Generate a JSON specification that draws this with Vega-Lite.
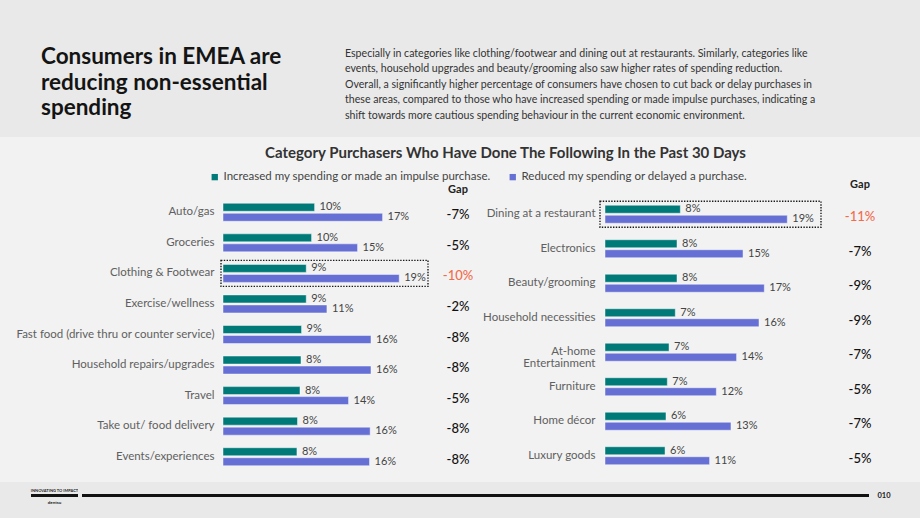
{
  "$schema": "https://vega.github.io/schema/vega-lite/v6.json",
  "background": "#f2f2f2",
  "padding": 0,
  "spacing": 9,
  "config": {
    "view": {"stroke": null},
    "font": "Lato",
    "locale": {"number": {"decimal": ".", "thousands": ",", "grouping": [3], "currency": ["$", ""], "minus": "-"}}
  },
  "datasets": {
    "header": [
      {
        "heading": "Consumers in EMEA are\nreducing non-essential\nspending",
        "paragraph": "Especially in categories like clothing/footwear and dining out at restaurants. Similarly, categories like\nevents, household upgrades and beauty/grooming also saw higher rates of spending reduction.\nOverall, a significantly higher percentage of consumers have chosen to cut back or delay purchases in\nthese areas, compared to those who have increased spending or made impulse purchases, indicating a\nshift towards more cautious spending behaviour in the current economic environment."
      }
    ],
    "leftBars": [
      {"category": "Auto/gas", "measure": "Increased my spending or made an impulse purchase.", "value": 0.0996},
      {"category": "Auto/gas", "measure": "Reduced my spending or delayed a purchase.", "value": 0.1735},
      {"category": "Groceries", "measure": "Increased my spending or made an impulse purchase.", "value": 0.0963},
      {"category": "Groceries", "measure": "Reduced my spending or delayed a purchase.", "value": 0.1463},
      {"category": "Clothing & Footwear", "measure": "Increased my spending or made an impulse purchase.", "value": 0.0905},
      {"category": "Clothing & Footwear", "measure": "Reduced my spending or delayed a purchase.", "value": 0.1916},
      {"category": "Exercise/wellness", "measure": "Increased my spending or made an impulse purchase.", "value": 0.0905},
      {"category": "Exercise/wellness", "measure": "Reduced my spending or delayed a purchase.", "value": 0.113},
      {"category": "Fast food (drive thru or counter service)", "measure": "Increased my spending or made an impulse purchase.", "value": 0.0854},
      {"category": "Fast food (drive thru or counter service)", "measure": "Reduced my spending or delayed a purchase.", "value": 0.1609},
      {"category": "Household repairs/upgrades", "measure": "Increased my spending or made an impulse purchase.", "value": 0.0848},
      {"category": "Household repairs/upgrades", "measure": "Reduced my spending or delayed a purchase.", "value": 0.1609},
      {"category": "Travel", "measure": "Increased my spending or made an impulse purchase.", "value": 0.0837},
      {"category": "Travel", "measure": "Reduced my spending or delayed a purchase.", "value": 0.1365},
      {"category": "Take out/ food delivery", "measure": "Increased my spending or made an impulse purchase.", "value": 0.081},
      {"category": "Take out/ food delivery", "measure": "Reduced my spending or delayed a purchase.", "value": 0.16},
      {"category": "Events/experiences", "measure": "Increased my spending or made an impulse purchase.", "value": 0.0804},
      {"category": "Events/experiences", "measure": "Reduced my spending or delayed a purchase.", "value": 0.1593}
    ],
    "rightBars": [
      {"category": "Dining at a restaurant", "measure": "Increased my spending or made an impulse purchase.", "value": 0.0793},
      {"category": "Dining at a restaurant", "measure": "Reduced my spending or delayed a purchase.", "value": 0.1919},
      {"category": "Electronics", "measure": "Increased my spending or made an impulse purchase.", "value": 0.0758},
      {"category": "Electronics", "measure": "Reduced my spending or delayed a purchase.", "value": 0.1453},
      {"category": "Beauty/grooming", "measure": "Increased my spending or made an impulse purchase.", "value": 0.0758},
      {"category": "Beauty/grooming", "measure": "Reduced my spending or delayed a purchase.", "value": 0.1677},
      {"category": "Household necessities", "measure": "Increased my spending or made an impulse purchase.", "value": 0.074},
      {"category": "Household necessities", "measure": "Reduced my spending or delayed a purchase.", "value": 0.1621},
      {"category": "At-home Entertainment", "measure": "Increased my spending or made an impulse purchase.", "value": 0.0674},
      {"category": "At-home Entertainment", "measure": "Reduced my spending or delayed a purchase.", "value": 0.1385},
      {"category": "Furniture", "measure": "Increased my spending or made an impulse purchase.", "value": 0.0656},
      {"category": "Furniture", "measure": "Reduced my spending or delayed a purchase.", "value": 0.1172},
      {"category": "Home décor", "measure": "Increased my spending or made an impulse purchase.", "value": 0.0642},
      {"category": "Home décor", "measure": "Reduced my spending or delayed a purchase.", "value": 0.1326},
      {"category": "Luxury goods", "measure": "Increased my spending or made an impulse purchase.", "value": 0.0632},
      {"category": "Luxury goods", "measure": "Reduced my spending or delayed a purchase.", "value": 0.1101}
    ],
    "leftGap": [
      {"category": "Auto/gas", "gap": -0.07, "highlight": false},
      {"category": "Groceries", "gap": -0.05, "highlight": false},
      {"category": "Clothing & Footwear", "gap": -0.10, "highlight": true},
      {"category": "Exercise/wellness", "gap": -0.02, "highlight": false},
      {"category": "Fast food (drive thru or counter service)", "gap": -0.08, "highlight": false},
      {"category": "Household repairs/upgrades", "gap": -0.08, "highlight": false},
      {"category": "Travel", "gap": -0.05, "highlight": false},
      {"category": "Take out/ food delivery", "gap": -0.08, "highlight": false},
      {"category": "Events/experiences", "gap": -0.08, "highlight": false}
    ],
    "rightGap": [
      {"category": "Dining at a restaurant", "gap": -0.11, "highlight": true},
      {"category": "Electronics", "gap": -0.07, "highlight": false},
      {"category": "Beauty/grooming", "gap": -0.09, "highlight": false},
      {"category": "Household necessities", "gap": -0.09, "highlight": false},
      {"category": "At-home Entertainment", "gap": -0.07, "highlight": false},
      {"category": "Furniture", "gap": -0.05, "highlight": false},
      {"category": "Home décor", "gap": -0.07, "highlight": false},
      {"category": "Luxury goods", "gap": -0.05, "highlight": false}
    ],
    "footer": [
      {"brand": "INNOVATING TO IMPACT", "company": "dentsu", "page": "010"}
    ]
  },
  "vconcat": [
    {
      "spacing": 0,
      "bounds": "flush",
      "hconcat": [
        {
          "width": 330,
          "height": 137,
          "view": {"fill": "#e9e9e9", "stroke": null},
          "data": {"name": "header"},
          "mark": {"type": "text", "align": "left", "baseline": "alphabetic", "lineBreak": "\n", "lineHeight": 25.4, "dx": -124, "dy": -4.2, "fontSize": 22.5, "fontWeight": "bold", "color": "#141414"},
          "encoding": {"text": {"field": "heading"}}
        },
        {
          "width": 590,
          "height": 137,
          "view": {"fill": "#e9e9e9", "stroke": null},
          "data": {"name": "header"},
          "mark": {"type": "text", "align": "left", "baseline": "alphabetic", "lineBreak": "\n", "lineHeight": 15.4, "dx": -280, "dy": -11.5, "fontSize": 10.6, "color": "#333333"},
          "encoding": {"text": {"field": "paragraph"}}
        }
      ]
    },
    {
      "spacing": 0,
      "bounds": "flush",
      "title": {
        "text": "Category Purchasers Who Have Done The Following In the Past 30 Days",
        "anchor": "middle", "frame": "bounds", "dx": 56, "offset": 18,
        "fontSize": 15, "fontWeight": "bold", "color": "#333333"
      },
      "hconcat": [
        {"width": 221, "height": 275, "data": {"values": []}, "mark": "point"},
        {
          "width": 207,
          "height": 275,
          "encoding": {
            "y": {
              "field": "category", "type": "nominal",
              "sort": ["Auto/gas", "Groceries", "Clothing & Footwear", "Exercise/wellness", "Fast food (drive thru or counter service)", "Household repairs/upgrades", "Travel", "Take out/ food delivery", "Events/experiences"],
              "scale": {"paddingInner": 0.149, "paddingOuter": 0.0745},
              "axis": {
                "title": null, "domain": false, "ticks": false, "labelPadding": 7,
                "labelFontSize": 11.5, "labelColor": "#606060",
                "labelLimit": 300
              }
            }
          },
          "layer": [
            {
              "data": {"name": "leftBars"},
              "mark": {"type": "bar", "stroke": "#ffffff", "strokeOpacity": 0.45, "strokeWidth": 1},
              "encoding": {
                "x": {"field": "value", "type": "quantitative", "scale": {"domain": [0, 0.2207], "padding": 2, "nice": false}, "axis": null},
                "yOffset": {"field": "measure", "type": "nominal", "scale": {"paddingInner": 0.2, "paddingOuter": 0.4}},
                "color": {
                  "field": "measure", "type": "nominal",
                  "scale": {"domain": ["Increased my spending or made an impulse purchase.", "Reduced my spending or delayed a purchase."], "range": ["#007a78", "#6670d4"]},
                  "legend": {"orient": "none", "legendX": 209, "legendY": 171, "direction": "horizontal", "title": null, "symbolType": "square", "symbolSize": 40, "symbolStrokeWidth": 0, "labelFontSize": 11.5, "labelColor": "#444444", "labelLimit": 400, "columnPadding": 16, "labelOffset": 3, "padding": 0}
                }
              }
            },
            {
              "data": {"name": "leftBars"},
              "mark": {"type": "text", "align": "left", "dx": 5, "baseline": "middle", "fontSize": 11, "color": "#444444"},
              "encoding": {
                "x": {"field": "value", "type": "quantitative"},
                "yOffset": {"field": "measure", "type": "nominal"},
                "text": {"field": "value", "format": ".0%"}
              }
            },
            {
              "data": {"name": "leftGap"},
              "transform": [{"filter": "datum.highlight"}],
              "mark": {"type": "rect", "filled": false, "stroke": "#1a1a1a", "strokeWidth": 1.4, "strokeDash": [1.4, 1.4]},
              "encoding": {"x": {"value": 0}, "x2": {"value": "width"}}
            }
          ]
        },
        {
          "width": 172,
          "height": 275,
          "data": {"name": "leftGap"},
          "mark": {"type": "text", "align": "center", "baseline": "middle", "dx": -56, "dy": 3, "fontSize": 13, "fontWeight": 500},
          "encoding": {
            "y": {
              "field": "category", "type": "nominal",
              "sort": ["Auto/gas", "Groceries", "Clothing & Footwear", "Exercise/wellness", "Fast food (drive thru or counter service)", "Household repairs/upgrades", "Travel", "Take out/ food delivery", "Events/experiences"],
              "scale": {"paddingInner": 0.149, "paddingOuter": 0.0745},
              "axis": null
            },
            "text": {"field": "gap", "format": ".0%"},
            "color": {"condition": {"test": "datum.highlight", "value": "#f26b4b"}, "value": "#111111"}
          },
          "title": {"text": "Gap", "anchor": "middle", "frame": "group", "dx": -56, "offset": 2, "fontSize": 11, "fontWeight": "bold", "color": "#222222"}
        },
        {
          "width": 221,
          "height": 276,
          "encoding": {
            "y": {
              "field": "category", "type": "nominal",
              "sort": ["Dining at a restaurant", "Electronics", "Beauty/grooming", "Household necessities", "At-home Entertainment", "Furniture", "Home décor", "Luxury goods"],
              "scale": {"paddingInner": 0.246, "paddingOuter": 0.123},
              "axis": {
                "title": null, "domain": false, "ticks": false, "labelPadding": 5,
                "labelFontSize": 11.5, "labelColor": "#606060",
                "labelLimit": 300, "labelLineHeight": 11.7,
                "labelExpr": "datum.label == 'At-home Entertainment' ? ['At-home', 'Entertainment'] : datum.label"
              }
            }
          },
          "layer": [
            {
              "data": {"name": "rightBars"},
              "mark": {"type": "bar", "stroke": "#ffffff", "strokeOpacity": 0.45, "strokeWidth": 1},
              "encoding": {
                "x": {"field": "value", "type": "quantitative", "scale": {"domain": [0, 0.2221], "padding": 5, "nice": false}, "axis": null},
                "yOffset": {"field": "measure", "type": "nominal", "scale": {"paddingInner": 0.18, "paddingOuter": 0.27}},
                "color": {
                  "field": "measure", "type": "nominal",
                  "scale": {"domain": ["Increased my spending or made an impulse purchase.", "Reduced my spending or delayed a purchase."], "range": ["#007a78", "#6670d4"]},
                  "legend": {"orient": "none", "legendX": 209, "legendY": 171, "direction": "horizontal", "title": null, "symbolType": "square", "symbolSize": 40, "symbolStrokeWidth": 0, "labelFontSize": 11.5, "labelColor": "#444444", "labelLimit": 400, "columnPadding": 16, "labelOffset": 3, "padding": 0}
                }
              }
            },
            {
              "data": {"name": "rightBars"},
              "mark": {"type": "text", "align": "left", "dx": 5, "baseline": "middle", "fontSize": 11, "color": "#444444"},
              "encoding": {
                "x": {"field": "value", "type": "quantitative"},
                "yOffset": {"field": "measure", "type": "nominal"},
                "text": {"field": "value", "format": ".0%"}
              }
            },
            {
              "data": {"name": "rightGap"},
              "transform": [{"filter": "datum.highlight"}],
              "mark": {"type": "rect", "filled": false, "stroke": "#1a1a1a", "strokeWidth": 1.4, "strokeDash": [1.4, 1.4]},
              "encoding": {"x": {"value": 0}, "x2": {"value": "width"}}
            }
          ]
        },
        {
          "width": 78,
          "height": 276,
          "data": {"name": "rightGap"},
          "mark": {"type": "text", "align": "center", "baseline": "middle", "dy": 3, "fontSize": 13, "fontWeight": 500},
          "encoding": {
            "y": {
              "field": "category", "type": "nominal",
              "sort": ["Dining at a restaurant", "Electronics", "Beauty/grooming", "Household necessities", "At-home Entertainment", "Furniture", "Home décor", "Luxury goods"],
              "scale": {"paddingInner": 0.246, "paddingOuter": 0.123},
              "axis": null
            },
            "text": {"field": "gap", "format": ".0%"},
            "color": {"condition": {"test": "datum.highlight", "value": "#f26b4b"}, "value": "#111111"}
          },
          "title": {"text": "Gap", "anchor": "middle", "frame": "group", "offset": 7, "fontSize": 11, "fontWeight": "bold", "color": "#222222"}
        }
      ]
    },
    {
      "spacing": 0,
      "bounds": "flush",
      "hconcat": [
        {"width": 31, "height": 37, "view": {"fill": "#e9e9e9", "stroke": null}, "data": {"values": []}, "mark": "point"},
        {
          "width": 47, "height": 37,
          "view": {"fill": "#e9e9e9", "stroke": null},
          "data": {"name": "footer"},
          "encoding": {"y": {"datum": "bar", "type": "nominal", "scale": {"type": "point", "align": 0.365, "padding": 0}, "axis": null}},
          "layer": [
            {"mark": {"type": "rule", "strokeWidth": 3, "color": "#111111"}, "encoding": {}},
            {"mark": {"type": "text", "baseline": "bottom", "dy": -3, "fontSize": 4, "fontWeight": "bold", "color": "#222222"}, "encoding": {"text": {"field": "brand"}}},
            {"mark": {"type": "text", "baseline": "top", "dy": 4, "fontSize": 4.5, "fontWeight": "bold", "color": "#222222"}, "encoding": {"text": {"field": "company"}}}
          ]
        },
        {"width": 4, "height": 37, "view": {"fill": "#e9e9e9", "stroke": null}, "data": {"values": []}, "mark": "point"},
        {
          "width": 787, "height": 37,
          "view": {"fill": "#e9e9e9", "stroke": null},
          "data": {"name": "footer"},
          "encoding": {"y": {"datum": "bar", "type": "nominal", "scale": {"type": "point", "align": 0.365, "padding": 0}, "axis": null}},
          "layer": [
            {"mark": {"type": "rule", "strokeWidth": 3, "color": "#111111"}, "encoding": {}}
          ]
        },
        {
          "width": 51, "height": 37,
          "view": {"fill": "#e9e9e9", "stroke": null},
          "data": {"name": "footer"},
          "mark": {"type": "text", "align": "center", "baseline": "middle", "dx": -10.5, "fontSize": 7.5, "fontWeight": "bold", "color": "#222222"},
          "encoding": {
            "y": {"datum": "bar", "type": "nominal", "scale": {"type": "point", "align": 0.365, "padding": 0}, "axis": null},
            "text": {"field": "page"}
          }
        }
      ]
    }
  ]
}
